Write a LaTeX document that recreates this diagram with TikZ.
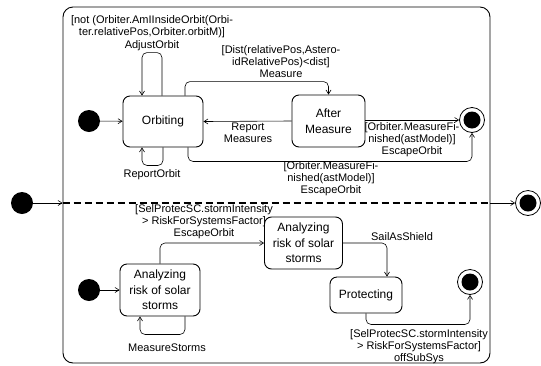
\documentclass[tikz,border=0pt]{standalone}
\usepackage{fontspec}
\setmainfont{Liberation Sans}
\usetikzlibrary{arrows.meta}
\usetikzlibrary{calc}
\begin{document}
\begin{tikzpicture}[x=1pt, y=-1pt,
        state_style/.style={draw, rounded corners=7pt, line width=0.9pt, minimum width=80pt, minimum height=51pt, align=center, inner sep=2pt, font=\fontsize{12}{15.5}\selectfont},
        init_style/.style={circle, fill=black, minimum size=22pt, inner sep=0pt},
        final_style/.style={circle, draw, line width=0.8pt, minimum size=25pt, inner sep=0pt, path picture={\fill (path picture bounding box.center) circle (8.5pt);}},
        composite_style/.style={draw, rounded corners=10pt, line width=0.9pt, minimum width=427pt, minimum height=356pt, inner sep=0pt},
        label_style/.style={align=center, inner sep=0pt, font=\fontsize{11}{12}\selectfont},
        edge_style/.style={draw=black, line width=0.6pt, rounded corners=5pt, -{Straight Barb[length=4pt,width=5pt]}},
        region_style/.style={draw=black, line width=1.1pt, dash pattern=on 7pt off 4pt}]

        \useasboundingbox (0,0) rectangle (541,365);

        % composite state and its two regions
        \node [composite_style](comp) at (276.5,185) {};
        \coordinate (div) at (276,203);
        \draw [region_style] (comp.west |- div) -- (comp.east |- div);
        \node [init_style](init0) at (22,203) {};
        \node [final_style](fin0) at (528,203) {};
        \draw [edge_style] (init0) -- (init0 -| comp.west);
        \draw [edge_style] (fin0 -| comp.east) -- (fin0);

        % upper region
        \node [init_style](init1) at (89,121) {};
        \node [state_style](orb) at (163,121.5) {Orbiting};
        \node [state_style, minimum width=73pt, minimum height=52pt](am) at (328.5,121) {After\\Measure};
        \node [final_style](fin1) at (472,120) {};
        \draw [edge_style] (init1) -- (orb);
        \draw [edge_style] ([xshift=-1pt]orb.north) -- ++(0,-43) -| ([xshift=-21pt]orb.north);
        \draw [edge_style] ([xshift=22pt]orb.north) -- ++(0,-14) -| (am.north);
        \draw [edge_style] (am.west) -- (orb.east);
        \draw [edge_style] (orb.south) -- ++(0,18) -| ([xshift=-21pt]orb.south);
        \draw [edge_style] ([xshift=25pt]orb.south) -- ++(0,14) -| (fin1.south);
        \draw [edge_style] (am.east |- fin1) -- (fin1.west);
        \node [label_style](l_guard) at (152,27) {[not (Orbiter.AmIInsideOrbit(Orbi-\\ter.relativePos,Orbiter.orbitM)]};
        \node [label_style](l_adjust) at (152,46) {AdjustOrbit};
        \node [label_style](l_report) at (152,175) {ReportOrbit};
        \node [label_style](l_measure) at (281,62) {[Dist(relativePos,Astero-\\idRelativePos)<dist]\\Measure};
        \node [label_style](l_repmeas) at (248,133) {Report\\Measures};
        \node [label_style](l_esc1) at (331,179) {[Orbiter.MeasureFi-\\nished(astModel)]\\EscapeOrbit};
        \node [label_style](l_esc2) at (412,140) {[Orbiter.MeasureFi-\\nished(astModel)]\\EscapeOrbit};

        % lower region
        \node [init_style](init2) at (89,290) {};
        \node [state_style, minimum height=52pt](an1) at (160,290) {Analyzing\\risk of solar\\storms};
        \node [state_style, minimum width=78pt, minimum height=52pt](an2) at (303.5,243) {Analyzing\\risk of solar\\storms};
        \node [state_style, minimum width=72pt, minimum height=36pt](prot) at (366,295) {Protecting};
        \node [final_style](fin2) at (470,282) {};
        \draw [edge_style] (init2) -- (an1);
        \draw [edge_style] (an1.north) |- (an2.west);
        \draw [edge_style] ([xshift=25pt]an1.south) -- ++(0,18) -| ([xshift=-20pt]an1.south);
        \draw [edge_style] (an2.east) -| ([xshift=21pt]prot.north);
        \draw [edge_style] (prot.south) -- ++(0,11) -| (fin2.south);
        \node [label_style](l_storm1) at (204,222) {[SelProtecSC.stormIntensity\\> RiskForSystemsFactor]\\EscapeOrbit};
        \node [label_style](l_sail) at (402,237) {SailAsShield};
        \node [label_style](l_measst) at (167,348) {MeasureStorms};
        \node [label_style](l_storm2) at (419,347) {[SelProtecSC.stormIntensity\\> RiskForSystemsFactor]\\offSubSys};
\end{tikzpicture}
\end{document}
